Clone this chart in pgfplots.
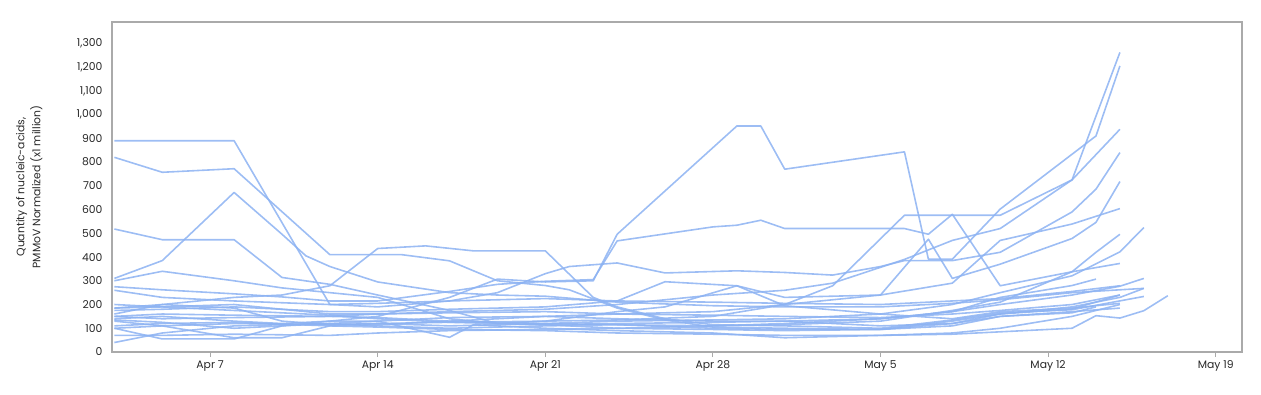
\documentclass[border=0pt]{standalone}
\usepackage{fontspec}
\setmainfont{Poppins}
\usepackage{pgfplots}
\pgfplotsset{compat=1.18}
\definecolor{ln}{RGB}{140,178,242}
\definecolor{fr}{RGB}{170,170,170}
\definecolor{tx}{RGB}{40,40,40}
\pgfplotsset{ser/.style={color=ln, line width=1.6pt, opacity=0.85, no markers, line join=round}}
\begin{document}
\begin{tikzpicture}
\begin{axis}[
  at={(112pt,42pt)}, anchor=south west,
  scale only axis, width=1130pt, height=330pt,
  xmin=2.9, xmax=50.1, ymin=0, ymax=1390,
  axis line style={draw=fr, line width=1.5pt},
  xtick={7,14,21,28,35,42,49},
  xticklabels={Apr 7,Apr 14,Apr 21,Apr 28,May 5,May 12,May 19},
  xtick pos=lower,
  ytick={0,100,...,1300},
  ytick style={draw=none},
  xtick style={draw=fr, line width=1pt},
  tick align=outside, major tick length=5pt,
  /pgf/number format/1000 sep={,},
  /pgf/number format/assume math mode=true,
  tick label style={font=\fontsize{10.8}{12}\selectfont, color=tx},
  yticklabel style={xshift=-1pt},
  ylabel={Quantity of nucleic-acids,\\PMMoV Normalized (x1 million)},
  ylabel style={at={(axis description cs:-0.0585,0.5)}, anchor=south, align=center, font=\fontsize{10.8}{16}\selectfont, color=tx},
  clip=true,
]
\addplot[ser] coordinates {(3,890)(8,890)(12,200)(14,205)(17,215)(21,225)(24,215)(28,210)(31,205)(35,200)(38,215)(40,225)(43,255)(45,279)};
\addplot[ser] coordinates {(3,820)(5,757)(8,772)(12,410)(14,410)(15,410)(17,384)(19,300)(21,280)(22,262)(24,185)(26,135)(28,105)(31,100)(35,95)(38,120)(40,150)(43,170)(45,185)};
\addplot[ser] coordinates {(3,310)(5,385)(8,672)(10,496)(11,405)(12,360)(14,295)(17,250)(19,240)(21,235)(24,210)(28,195)(31,190)(35,190)(38,205)(40,220)(43,250)(46,268)};
\addplot[ser] coordinates {(3,518)(5,473)(8,473)(10,314)(12,285)(14,240)(17,175)(19,120)(21,115)(24,100)(28,95)(31,90)(35,95)(38,130)(40,160)(43,181)(45,240)};
\addplot[ser] coordinates {(3,185)(5,200)(8,230)(10,240)(12,279)(14,436)(16,447)(18,426)(21,426)(23,230)(24,190)(26,140)(28,115)(31,110)(35,100)(38,135)(40,165)(43,178)(46,234)};
\addplot[ser] coordinates {(3,140)(5,150)(8,130)(10,120)(12,130)(14,150)(17,230)(19,307)(21,295)(23,300)(24,496)(29,952)(30,952)(31,770)(36,843)(37,391)(38,391)(40,602)(43,833)(44,910)(45,1205)};
\addplot[ser] coordinates {(3,275)(5,262)(8,245)(10,232)(12,215)(14,215)(17,255)(19,285)(21,298)(23,305)(24,468)(28,527)(29,534)(30,555)(31,520)(36,520)(37,496)(38,580)(40,279)(43,338)(45,373)};
\addplot[ser] coordinates {(3,100)(5,110)(8,120)(12,115)(14,120)(17,125)(21,130)(24,135)(28,150)(31,200)(33,279)(36,576)(40,576)(43,725)(45,938)};
\addplot[ser] coordinates {(3,150)(5,140)(8,145)(12,150)(14,160)(17,170)(21,180)(24,200)(28,240)(31,260)(33,290)(36,390)(38,470)(40,520)(43,725)(45,1262)};
\addplot[ser] coordinates {(3,260)(5,230)(8,215)(12,200)(14,190)(17,215)(19,250)(21,330)(22,360)(24,375)(26,333)(29,342)(31,335)(33,324)(35,360)(36,385)(38,385)(40,420)(43,590)(44,686)(45,840)};
\addplot[ser] coordinates {(3,110)(5,120)(8,125)(12,110)(14,115)(17,130)(21,150)(24,160)(28,170)(31,200)(35,240)(37,475)(38,310)(40,370)(43,478)(44,546)(45,718)};
\addplot[ser] coordinates {(3,175)(5,180)(8,190)(12,170)(14,170)(17,180)(21,190)(24,215)(26,296)(29,279)(31,230)(35,240)(38,290)(40,470)(43,539)(45,604)};
\addplot[ser] coordinates {(3,135)(5,125)(8,100)(12,120)(14,110)(17,100)(21,110)(24,115)(28,110)(31,115)(35,130)(38,175)(40,210)(43,338)(44,420)(45,496)};
\addplot[ser] coordinates {(3,150)(5,160)(8,155)(12,150)(14,145)(17,130)(21,120)(24,130)(28,135)(31,140)(35,160)(38,200)(40,250)(43,321)(45,422)(46,524)};
\addplot[ser] coordinates {(3,185)(5,190)(8,175)(12,155)(14,140)(17,125)(21,115)(24,120)(28,125)(31,130)(35,140)(38,170)(40,230)(43,280)(44,307)};
\addplot[ser] coordinates {(3,70)(5,70)(8,75)(12,70)(14,80)(17,90)(21,95)(24,100)(28,110)(31,120)(35,140)(38,170)(40,200)(43,240)(45,277)(46,310)};
\addplot[ser] coordinates {(3,40)(5,80)(8,110)(12,120)(14,130)(17,145)(21,150)(24,140)(28,130)(31,130)(35,110)(38,120)(40,160)(43,190)(45,230)(46,268)};
\addplot[ser] coordinates {(3,200)(5,190)(8,200)(12,160)(14,160)(17,165)(21,170)(24,160)(28,155)(31,150)(35,145)(38,160)(40,175)(43,200)(45,240)};
\addplot[ser] coordinates {(3,130)(5,110)(8,60)(10,60)(12,110)(14,105)(17,95)(21,90)(24,80)(28,75)(31,70)(35,70)(38,75)(40,85)(43,100)(44,153)(45,143)(46,174)(47,237)};
\addplot[ser] coordinates {(3,100)(5,55)(8,55)(10,110)(12,130)(14,130)(17,62)(18,115)(21,100)(24,90)(28,80)(31,60)(35,70)(38,80)(40,100)(43,150)(45,200)};
\addplot[ser] coordinates {(3,160)(5,200)(8,185)(10,130)(12,115)(14,120)(17,110)(19,115)(21,120)(24,115)(28,100)(31,95)(35,95)(38,110)(40,150)(43,165)(44,190)};
\addplot[ser] coordinates {(3,300)(5,340)(8,300)(10,270)(12,250)(14,230)(17,140)(19,120)(21,130)(24,170)(26,190)(29,279)(31,195)(35,160)(38,140)(40,170)(43,185)(45,205)};
\end{axis}
\pgfresetboundingbox
\path[use as bounding box] (0,0) rectangle (1261pt,394pt);
\end{tikzpicture}
\end{document}
